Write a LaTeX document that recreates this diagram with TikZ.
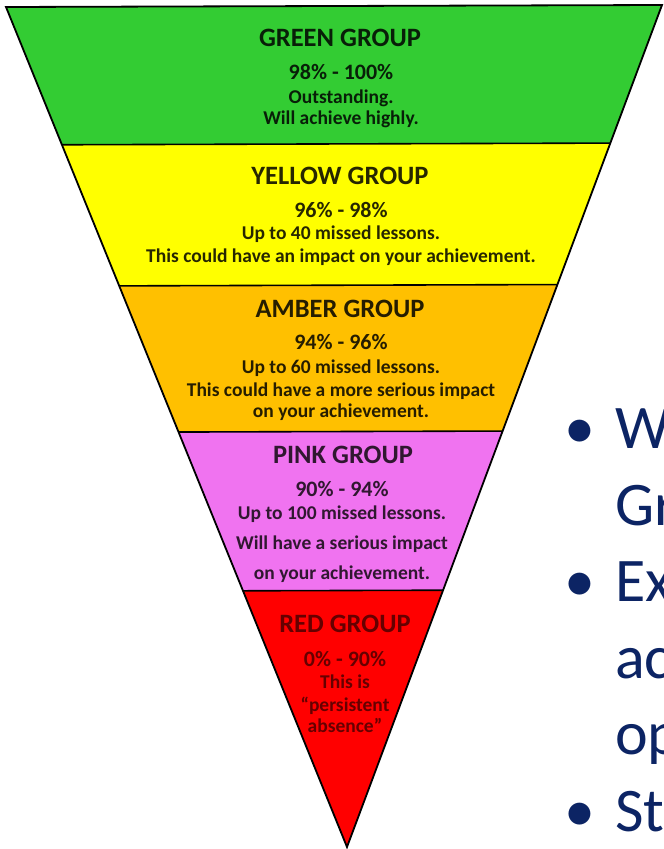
\documentclass[tikz,border=0pt]{standalone}
\usepackage{fontspec}
\setmainfont{Carlito}
\usetikzlibrary{calc, positioning}
\definecolor{grpgreen}{RGB}{51,204,51}
\definecolor{grpyellow}{RGB}{255,255,0}
\definecolor{grpamber}{RGB}{255,192,0}
\definecolor{grppink}{RGB}{240,115,240}
\definecolor{grpred}{RGB}{255,0,0}
\definecolor{slidenavy}{RGB}{12,36,100}
\tikzset{
    outline/.style={draw=black, line width=1.8pt, line join=miter},
    divider/.style={draw=black, line width=1.6pt},
    grouptitle/.style={anchor=base, inner sep=0pt, font=\bfseries\fontsize{26.5}{30}\selectfont},
    percent/.style={anchor=base, inner sep=0pt, font=\bfseries\fontsize{22}{26}\selectfont},
    infoline/.style={anchor=base, inner sep=0pt, font=\bfseries\fontsize{19.5}{23}\selectfont},
    bulletdot/.style={anchor=base, inner sep=0pt, font=\fontsize{62}{75}\selectfont, text=slidenavy},
    bulletline/.style={anchor=base west, inner sep=0pt, font=\fontsize{62}{75}\selectfont, text=slidenavy}
}
\begin{document}
\begin{tikzpicture}[x=1pt, y=-1pt]
        \useasboundingbox (0,0) rectangle (664,849);
        
        % Corners of the funnel
        \coordinate (TL) at (6,7);
        \coordinate (TR) at (662,5);
        \coordinate (A) at (347,847);
        \coordinate (L1) at ($(TL)!0.164!(A)$);
        \coordinate (R1) at ($(TR)!0.164!(A)$);
        \coordinate (L2) at ($(TL)!0.332!(A)$);
        \coordinate (R2) at ($(TR)!0.332!(A)$);
        \coordinate (L3) at ($(TL)!0.506!(A)$);
        \coordinate (R3) at ($(TR)!0.506!(A)$);
        \coordinate (L4) at ($(TL)!0.695!(A)$);
        \coordinate (R4) at ($(TR)!0.695!(A)$);
        
        % Bands
        \fill[grpgreen] (TL) -- (TR) -- (R1) -- (L1) -- cycle;
        \fill[grpyellow] (L1) -- (R1) -- (R2) -- (L2) -- cycle;
        \fill[grpamber] (L2) -- (R2) -- (R3) -- (L3) -- cycle;
        \fill[grppink] (L3) -- (R3) -- (R4) -- (L4) -- cycle;
        \fill[grpred] (L4) -- (R4) -- (A) -- cycle;
        \draw[divider] (L1) -- (R1);
        \draw[divider] (L2) -- (R2);
        \draw[divider] (L3) -- (R3);
        \draw[divider] (L4) -- (R4);
        \draw[outline] (TL) -- (TR) -- (A) -- cycle;
        
        % Green
        \node[grouptitle, text=grpgreen!15!black] (greenTitle) at (340,46) {GREEN GROUP};
        \node[percent, text=grpgreen!15!black] (greenPct) at (341,79) {98\% - 100\%};
        \foreach \txt/\yb [count=\i] in {Outstanding./103, Will achieve highly./124}
            \node[infoline, text=grpgreen!15!black] (greenLine\i) at (341,\yb) {\txt};
        
        % Yellow
        \node[grouptitle, text=grpyellow!15!black] (yellowTitle) at (340,184) {YELLOW GROUP};
        \node[percent, text=grpyellow!15!black] (yellowPct) at (341,217) {96\% - 98\%};
        \foreach \txt/\yb [count=\i] in {Up to 40 missed lessons./239, This could have an impact on your achievement./262}
            \node[infoline, text=grpyellow!15!black] (yellowLine\i) at (341,\yb) {\txt};
        
        % Amber
        \node[grouptitle, text=grpamber!15!black] (amberTitle) at (340,317) {AMBER GROUP};
        \node[percent, text=grpamber!15!black] (amberPct) at (341,349) {94\% - 96\%};
        \foreach \txt/\yb [count=\i] in {Up to 60 missed lessons./373, This could have a more serious impact/396, on your achievement./417}
            \node[infoline, text=grpamber!15!black] (amberLine\i) at (341,\yb) {\txt};
        
        % Pink
        \node[grouptitle, text=grppink!20!black] (pinkTitle) at (343,463) {PINK GROUP};
        \node[percent, text=grppink!20!black] (pinkPct) at (342,496) {90\% - 94\%};
        \foreach \txt/\yb [count=\i] in {Up to 100 missed lessons./519, Will have a serious impact/549, on your achievement./579}
            \node[infoline, text=grppink!20!black] (pinkLine\i) at (342,\yb) {\txt};
        
        % Red
        \node[grouptitle, text=grpred!40!black] (redTitle) at (345,632) {RED GROUP};
        \node[percent, text=grpred!40!black] (redPct) at (345,666) {0\% - 90\%};
        \foreach \txt/\yb [count=\i] in {This is/688, “persistent/711, absence”/732}
            \node[infoline, text=grpred!40!black] (redLine\i) at (345,\yb) {\txt};
        
        % Slide text, cut off at the edge
        \node[bulletdot] (dotA) at (580,448) {•};
        \node[bulletline] (textA) at (615,448) {W};
        \node[bulletline] (textB) at (615,525) {Gr};
        \node[bulletdot] (dotB) at (580,601) {•};
        \node[bulletline] (textC) at (615,601) {Ex};
        \node[bulletline] (textD) at (615,678) {ac};
        \node[bulletline] (textE) at (615,754) {op};
        \node[bulletdot] (dotC) at (580,831) {•};
        \node[bulletline] (textF) at (615,831) {St};
    \end{tikzpicture}
\end{document}
